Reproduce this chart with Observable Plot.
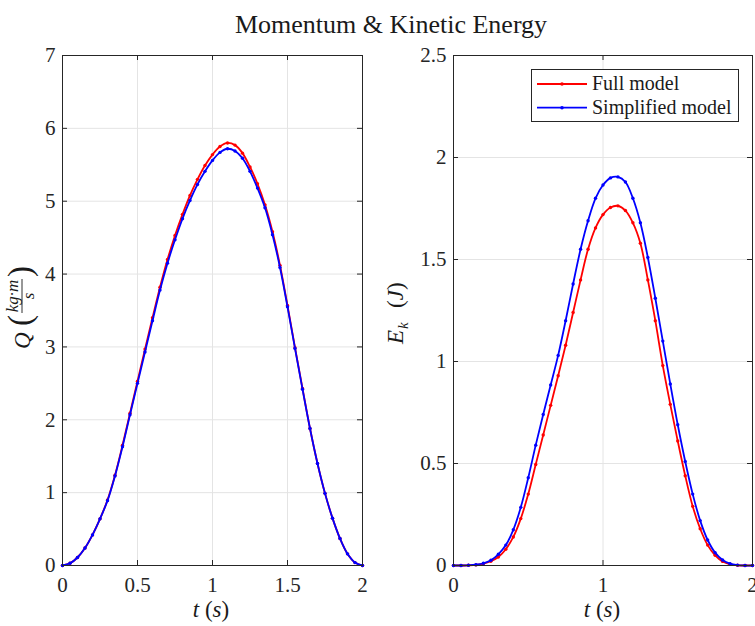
<!DOCTYPE html>
<html><head><meta charset="utf-8">
<script src="https://cdn.jsdelivr.net/npm/d3@7"></script>
<script src="https://cdn.jsdelivr.net/npm/@observablehq/plot@0.6"></script>
<style>
body{margin:0;background:#fff;}
#wrap{position:relative;width:755px;height:626px;overflow:hidden;background:#fff;}
#wrap svg{position:absolute;top:0;}
</style></head><body><div id="wrap"></div>
<script>
// ---- data ----
const tVals = [0,0.05,0.10,0.15,0.20,0.25,0.30,0.35,0.40,0.45,0.50,0.55,0.60,0.65,0.70,0.75,0.80,0.85,0.90,0.95,
  1.00,1.05,1.10,1.15,1.20,1.25,1.30,1.35,1.40,1.45,1.50,1.55,1.60,1.65,1.70,1.75,1.80,1.85,1.90,1.95,2.00];
const qFull = [0,0.03,0.11,0.24,0.42,0.64,0.90,1.24,1.65,2.09,2.53,2.97,3.40,3.82,4.20,4.53,4.82,5.08,5.30,5.49,
  5.64,5.75,5.80,5.77,5.66,5.47,5.24,4.95,4.58,4.12,3.57,2.99,2.43,1.88,1.40,0.99,0.65,0.37,0.16,0.04,0];
const qSimp = [0,0.03,0.11,0.24,0.42,0.64,0.89,1.23,1.63,2.07,2.50,2.93,3.36,3.78,4.15,4.47,4.76,5.01,5.23,5.41,
  5.56,5.67,5.72,5.69,5.59,5.41,5.18,4.91,4.54,4.09,3.55,2.98,2.42,1.88,1.40,0.99,0.65,0.37,0.16,0.04,0];
const eFull = [0,0,0.001,0.003,0.009,0.021,0.042,0.08,0.14,0.23,0.35,0.495,0.64,0.785,0.93,1.08,1.24,1.40,1.55,1.655,
  1.72,1.755,1.763,1.74,1.68,1.58,1.40,1.20,0.98,0.79,0.61,0.44,0.29,0.18,0.10,0.05,0.02,0.006,0.001,0,0];
const eSimp = [0,0,0.001,0.004,0.011,0.026,0.055,0.10,0.175,0.285,0.43,0.59,0.74,0.885,1.03,1.20,1.38,1.55,1.69,1.80,
  1.865,1.90,1.905,1.88,1.80,1.68,1.51,1.31,1.10,0.89,0.69,0.51,0.35,0.22,0.125,0.063,0.027,0.009,0.002,0,0];
const seriesNames = ["Full model", "Simplified model"];
const seriesColors = ["#ff0000", "#0000ff"];
const xTicksLeft = [0, 0.5, 1, 1.5, 2];
const xTicksRight = [0, 1, 2];
const yTicksLeft = [0, 1, 2, 3, 4, 5, 6, 7];
const yTicksRight = [0, 0.5, 1, 1.5, 2, 2.5];

const toRows = (vals) => tVals.map((t, i) => ({t, v: vals[i]}));

const fontFamily = '"Liberation Serif", "DejaVu Serif", serif';
const ink = "#262626";
const gridColor = "#e4e4e4";

function panel({series, yDomain, xTicks, yTicks, width, marginLeft, marginRight}) {
  const H = 626, mt = 55, mb = 61;
  const fh = H - mt - mb, fw = width - marginLeft - marginRight, tk = 5;
  const seriesMarks = [];
  series.forEach((vals, i) => {
    const rows = toRows(vals);
    seriesMarks.push(Plot.line(rows, {x: "t", y: "v", stroke: seriesColors[i], strokeWidth: 1.8, curve: "catmull-rom"}));
    seriesMarks.push(Plot.dot(rows, {x: "t", y: "v", fill: seriesColors[i], r: 1.7}));
  });
  return Plot.plot({
    width, height: H, marginTop: mt, marginBottom: mb, marginLeft, marginRight,
    style: {fontFamily, fontSize: "21px", color: ink, background: "transparent"},
    x: {domain: [0, 2]},
    y: {domain: yDomain},
    marks: [
      Plot.ruleX(xTicks, {stroke: gridColor}),
      Plot.ruleY(yTicks, {stroke: gridColor}),
      ...seriesMarks,
      Plot.ruleX(xTicks, {stroke: ink, insetBottom: fh - tk}),
      Plot.ruleX(xTicks, {stroke: ink, insetTop: fh - tk}),
      Plot.ruleY(yTicks, {stroke: ink, insetRight: fw - tk}),
      Plot.ruleY(yTicks, {stroke: ink, insetLeft: fw - tk}),
      Plot.frame({stroke: ink}),
      Plot.axisX(xTicks, {tickSize: 0, tickPadding: 12, tickFormat: d => String(d), label: null, fontSize: 21}),
      Plot.axisY(yTicks, {tickSize: 0, tickPadding: 7, tickFormat: d => String(d), label: null, fontSize: 21})
    ]
  });
}

const wrap = document.getElementById("wrap");
const left = panel({series: [qFull, qSimp], yDomain: [0, 7], xTicks: xTicksLeft, yTicks: yTicksLeft,
  width: 380, marginLeft: 62, marginRight: 18});
left.style.left = "0px";
const right = panel({series: [eFull, eSimp], yDomain: [0, 2.5], xTicks: xTicksRight, yTicks: yTicksRight,
  width: 375, marginLeft: 73, marginRight: 3});
right.style.left = "380px";
wrap.appendChild(left);
wrap.appendChild(right);

// ---- overlay: title, axis labels, legend ----
const ns = "http://www.w3.org/2000/svg";
const ov = document.createElementNS(ns, "svg");
ov.setAttribute("width", 755); ov.setAttribute("height", 626);
ov.style.left = "0px"; ov.style.pointerEvents = "none";
ov.setAttribute("font-family", fontFamily);
ov.setAttribute("fill", "#1a1a1a");
const legendRows = seriesNames.map((name, i) => `
  <line x1="537" x2="587" y1="${84 + i * 23.7}" y2="${84 + i * 23.7}" stroke="${seriesColors[i]}" stroke-width="1.8"/>
  <circle cx="562" cy="${84 + i * 23.7}" r="1.8" fill="${seriesColors[i]}"/>
  <text x="592" y="${90 + i * 23.5}" font-size="20">${name}</text>`).join("");
ov.innerHTML = `
  <text x="391" y="33" text-anchor="middle" font-size="26">Momentum &amp; Kinetic Energy</text>
  <text x="211" y="617" text-anchor="middle" font-size="23"><tspan font-style="italic">t</tspan> (<tspan font-style="italic">s</tspan>)</text>
  <text x="602" y="617" text-anchor="middle" font-size="23"><tspan font-style="italic">t</tspan> (<tspan font-style="italic">s</tspan>)</text>
  <g transform="translate(30,308) rotate(-90)">
    <text x="-41" y="0" font-size="23" font-style="italic">Q</text>
    <text x="-18" y="1" font-size="33">(</text>
    <text x="12" y="-12" font-size="17" font-style="italic" text-anchor="middle">kg·m</text>
    <line x1="-5" x2="29" y1="-8" y2="-8" stroke="#1a1a1a" stroke-width="0.9"/>
    <text x="12" y="4" font-size="17" font-style="italic" text-anchor="middle">s</text>
    <text x="31" y="1" font-size="33">)</text>
  </g>
  <g transform="translate(403,312) rotate(-90)">
    <text x="-32" y="0" font-size="23" font-style="italic">E</text>
    <text x="-17" y="5" font-size="15" font-style="italic">k</text>
    <text x="4" y="0" font-size="23">(<tspan font-style="italic">J</tspan>)</text>
  </g>
  <rect x="531.5" y="69.5" width="207" height="52" fill="#fff" stroke="${ink}" stroke-width="1"/>
  ${legendRows}
`;
wrap.appendChild(ov);
</script>
</body></html>
